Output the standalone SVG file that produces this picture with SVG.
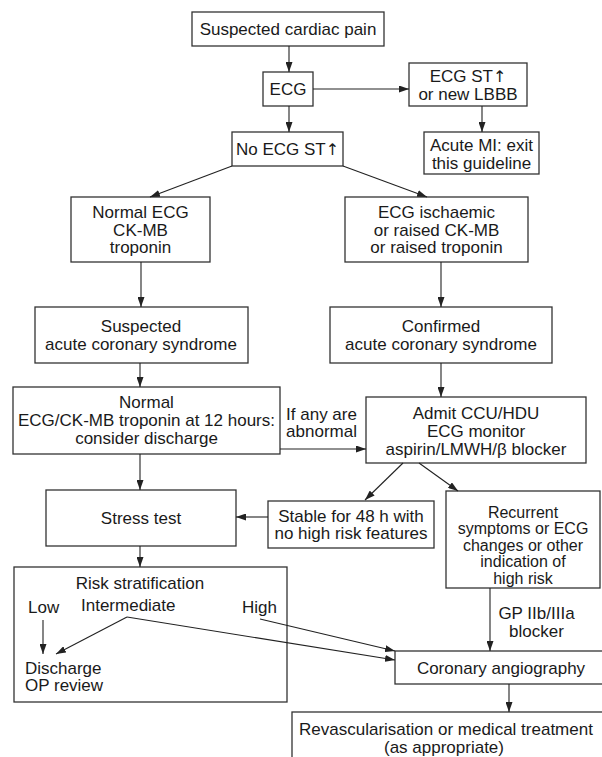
<svg xmlns="http://www.w3.org/2000/svg" width="602" height="757" viewBox="0 0 602 757">
<style>
.box{fill:#fff;stroke:#333;stroke-width:1.3}
text{font-family:"Liberation Sans",Arial,sans-serif;font-size:17px;fill:#1a1a1a}
.c{text-anchor:middle}
.s{font-size:16px}
.ar{font-family:"DejaVu Sans",sans-serif;font-size:16px;fill:#1a1a1a}
.ln{stroke:#222;stroke-width:1.1;fill:none;marker-end:url(#ah)}
</style>
<defs>
<marker id="ah" markerUnits="userSpaceOnUse" markerWidth="10" markerHeight="7" refX="10" refY="3.5" orient="auto">
<path d="M0,0 L10,3.5 L0,7 z" fill="#222"/>
</marker>
</defs>
<rect width="602" height="757" fill="#fff"/>
<g id="n1"><rect class="box" x="192" y="12" width="192" height="34"/><text class="c" x="288" y="35">Suspected cardiac pain</text></g>
<g id="n2"><rect class="box" x="263" y="72" width="50" height="34"/><text class="c" x="288" y="95">ECG</text></g>
<g id="n3"><rect class="box" x="409" y="63" width="118" height="43"/><text class="c" x="468" y="82">ECG ST<tspan class="ar">↑</tspan></text><text class="c" x="468" y="100">or new LBBB</text></g>
<g id="n4"><rect class="box" x="424" y="132" width="115" height="42"/><text class="c" x="481.5" y="151">Acute MI: exit</text><text class="c" x="481.5" y="169">this guideline</text></g>
<g id="n5"><rect class="box" x="232" y="132" width="111" height="34"/><text class="c" x="287.5" y="155">No ECG ST<tspan class="ar">↑</tspan></text></g>
<g id="n6"><rect class="box" x="71" y="197" width="139" height="65"/><text class="c" x="140.5" y="218">Normal ECG</text><text class="c" x="140.5" y="235.5">CK-MB</text><text class="c" x="140.5" y="253">troponin</text></g>
<g id="n7"><rect class="box" x="345" y="197" width="183" height="65"/><text class="c" x="436.5" y="218">ECG ischaemic</text><text class="c" x="436.5" y="235.5">or raised CK-MB</text><text class="c" x="436.5" y="253">or raised troponin</text></g>
<g id="n8"><rect class="box" x="35" y="307" width="213" height="56"/><text class="c" x="141" y="332">Suspected</text><text class="c" x="141" y="349.5">acute coronary syndrome</text></g>
<g id="n9"><rect class="box" x="330" y="307" width="222" height="56"/><text class="c" x="441" y="332">Confirmed</text><text class="c" x="441" y="349.5">acute coronary syndrome</text></g>
<g id="n10"><rect class="box" x="13" y="387" width="267" height="67"/><text class="c" x="146.5" y="408">Normal</text><text class="c" x="146.5" y="426">ECG/CK-MB troponin at 12 hours:</text><text class="c" x="146.5" y="444">consider discharge</text></g>
<g id="lbl1"><text class="c" x="321.5" y="419.5">If any are</text><text class="c" x="321.5" y="437">abnormal</text></g>
<g id="n11"><rect class="box" x="366" y="397" width="220" height="66"/><text class="c" x="476" y="419">Admit CCU/HDU</text><text class="c" x="476" y="436.5">ECG monitor</text><text class="c" x="476" y="454.5">aspirin/LMWH/β blocker</text></g>
<g id="n12"><rect class="box" x="46" y="490" width="190" height="56"/><text class="c" x="141" y="524">Stress test</text></g>
<g id="n13"><rect class="box" x="268" y="501" width="166" height="47"/><text class="c" x="351" y="521.5">Stable for 48 h with</text><text class="c" x="351" y="539">no high risk features</text></g>
<g id="n14"><rect class="box" x="446" y="491" width="154" height="97"/><text class="c s" x="523" y="517.5">Recurrent</text><text class="c s" x="523" y="534">symptoms or ECG</text><text class="c s" x="523" y="550.5">changes or other</text><text class="c s" x="523" y="567">indication of</text><text class="c s" x="523" y="583.5">high risk</text></g>
<g id="n15"><rect class="box" x="14" y="567" width="273" height="135"/><text class="c" x="140" y="589">Risk stratification</text><text x="28" y="612.5">Low</text><text x="81" y="610.5">Intermediate</text><text x="242" y="612.5">High</text><text x="25" y="673.5">Discharge</text><text x="25" y="691">OP review</text></g>
<g id="lbl2"><text class="c" x="536.5" y="619">GP IIb/IIIa</text><text class="c" x="536.5" y="636.5">blocker</text></g>
<g id="n16"><rect class="box" x="395" y="651" width="211" height="33"/><text class="c" x="501" y="674">Coronary angiography</text></g>
<g id="n17"><rect class="box" x="292" y="712" width="314" height="60"/><text class="c" x="446" y="735">Revascularisation or medical treatment</text><text class="c" x="444" y="753">(as appropriate)</text></g>
<g id="connectors">
<line class="ln" x1="289" y1="46" x2="289" y2="72"/>
<line class="ln" x1="313" y1="89" x2="409" y2="89"/>
<line class="ln" x1="482" y1="106" x2="482" y2="132"/>
<line class="ln" x1="289" y1="106" x2="289" y2="132"/>
<line class="ln" x1="232" y1="166" x2="150" y2="197"/>
<line class="ln" x1="343" y1="166" x2="427" y2="197"/>
<line class="ln" x1="141" y1="262" x2="141" y2="307"/>
<line class="ln" x1="441" y1="262" x2="441" y2="307"/>
<line class="ln" x1="140" y1="363" x2="140" y2="387"/>
<line class="ln" x1="441" y1="363" x2="441" y2="397"/>
<line class="ln" x1="280" y1="449" x2="366" y2="449"/>
<line class="ln" x1="140" y1="454" x2="140" y2="490"/>
<line class="ln" x1="403" y1="463" x2="365" y2="500"/>
<line class="ln" x1="419" y1="463" x2="458" y2="491"/>
<line class="ln" x1="268" y1="517" x2="236" y2="517"/>
<line class="ln" x1="140" y1="546" x2="140" y2="567"/>
<line class="ln" x1="490" y1="588" x2="490" y2="651"/>
<line class="ln" x1="43" y1="620" x2="43" y2="654"/>
<line class="ln" x1="127" y1="617" x2="56" y2="654"/>
<line class="ln" x1="127" y1="617" x2="395" y2="660"/>
<line class="ln" x1="260" y1="619" x2="395" y2="651"/>
<line class="ln" x1="509" y1="684" x2="509" y2="712"/>
</g>
</svg>
